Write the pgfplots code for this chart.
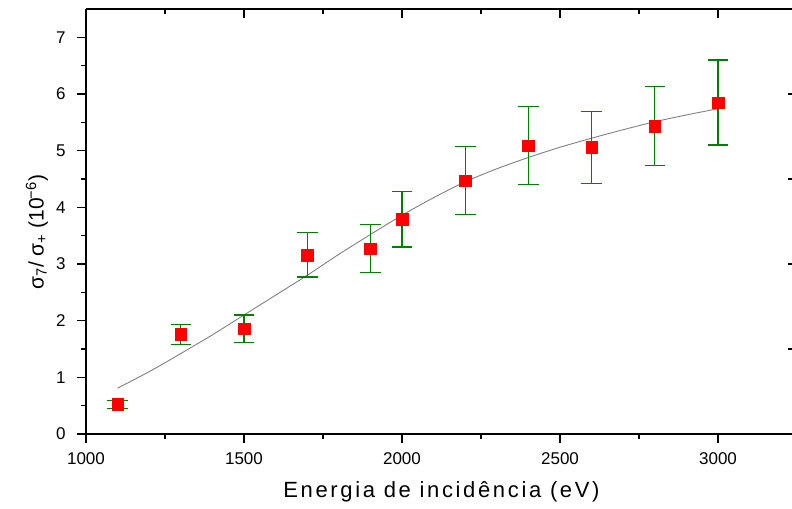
\documentclass[border=0pt]{standalone}
\usepackage{pgfplots}
\pgfplotsset{compat=1.18}
\usepackage{fontspec}
\setmainfont{Liberation Sans}
\newfontfamily\xlabelfont[LetterSpace=12]{Liberation Sans}

\definecolor{errgreen}{RGB}{0,128,0}

% measured points: energy, ratio, error up, error down
\pgfplotstableread{
x    y    ep   em
1100 0.53 0.06 0.08
1300 1.76 0.18 0.185
1500 1.86 0.24 0.25
1700 3.16 0.39 0.39
1900 3.27 0.42 0.42
2000 3.79 0.49 0.49
2200 4.47 0.61 0.60
2400 5.09 0.69 0.68
2600 5.06 0.63 0.64
2800 5.43 0.70 0.69
3000 5.85 0.75 0.75
}\measured

% fitted curve
\pgfplotstableread{
x    y
1100 0.81
1200 1.10
1300 1.42
1400 1.75
1500 2.10
1600 2.45
1700 2.80
1800 3.17
1900 3.52
2000 3.86
2100 4.17
2200 4.45
2300 4.68
2400 4.88
2500 5.06
2600 5.22
2700 5.37
2800 5.51
2900 5.63
3000 5.74
}\fitcurve

\pgfplotsset{
  common/.style={
    scale only axis,
    width=711bp, height=425bp,
    xmin=1000, xmax=3250,
    ymin=0, ymax=7.5,
    axis line style={-, line width=1.6bp, black},
    every tick/.style={black, line width=1.5bp},
    major tick length=9bp,
    minor tick length=5bp,
  },
}

\begin{document}
\begin{tikzpicture}
  \begin{axis}[
    common,
    axis x line*=bottom,
    axis y line*=left,
    tick align=outside,
    xtick={1000,1500,2000,2500,3000},
    minor xtick={1250,1750,2250,2750,3250},
    ytick={0,1,2,3,4,5,6,7},
    minor ytick={0.5,1.5,2.5,3.5,4.5,5.5,6.5},
    xticklabels={1000,1500,2000,2500,3000},
    yticklabels={0,1,2,3,4,5,6,7},
    xticklabel style={font=\fontsize{17bp}{20bp}\selectfont, anchor=north, yshift=-6bp},
    yticklabel style={font=\fontsize{17bp}{20bp}\selectfont, anchor=east, xshift=-8bp},
    xlabel={\xlabelfont\fontsize{22bp}{26bp}\selectfont Energia de incidência (eV)},
    xlabel style={at={(axis description cs:0.5,0)}, anchor=base, yshift=-63bp},
    ylabel={\fontsize{21bp}{25bp}\selectfont σ\textsubscript{7}/ σ\textsubscript{+} (10\kern-0.05em\textsuperscript{−6})},
    ylabel style={at={(axis description cs:-0.069,0.475)}, anchor=center},
  ]
    \addplot[gray, line width=0.9bp, smooth] table[x=x, y=y] {\fitcurve};
    \addplot[only marks, mark=square*, mark size=5.8bp,
      mark options={draw=red, fill=red},
      error bars/.cd, y dir=both, y explicit,
      error bar style={errgreen, line width=1.1bp},
      error mark options={errgreen, rotate=90, mark size=10.3bp, line width=1.1bp},
    ] table[x=x, y=y, y error plus=ep, y error minus=em] {\measured};
  \end{axis}
  \begin{axis}[
    common,
    axis x line*=top,
    axis y line*=right,
    tick align=inside,
    xtick={1000,1500,2000,2500,3000},
    minor xtick={1250,1750,2250,2750,3250},
    ytick={1.5,3,4.5,6},
    minor ytick={0.75,2.25,3.75,5.25,6.75},
    xticklabel=\empty, yticklabel=\empty,
  ]
  \end{axis}
  \pgfresetboundingbox
  \useasboundingbox (-86bp,-75bp) rectangle (706bp,434bp);
\end{tikzpicture}
\end{document}
